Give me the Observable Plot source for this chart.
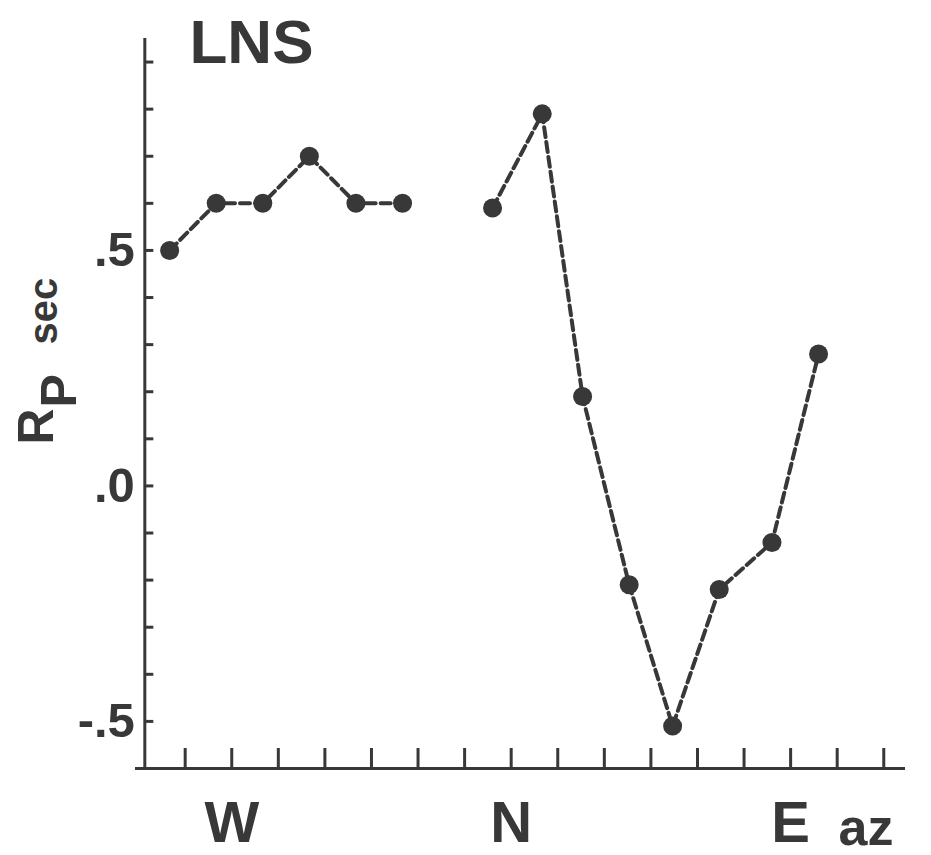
<!DOCTYPE html>
<html>
<head>
<meta charset="utf-8">
<script src="https://cdn.jsdelivr.net/npm/d3@7"></script>
<script src="https://cdn.jsdelivr.net/npm/@observablehq/plot@0.6"></script>
<style>
  html, body { margin: 0; padding: 0; background: #fff; }
  #chart { width: 931px; height: 855px; }
</style>
</head>
<body>
<div id="chart"></div>
<script>
// ---- data ----
const azimuth = [250, 265, 280, 295, 310, 325, 340, 354, 370, 383, 398, 412, 427, 444, 459];
const rpSec   = [0.50, 0.60, 0.60, 0.70, 0.60, 0.60, null, 0.59, 0.79, 0.19, -0.21, -0.51, -0.22, -0.12, 0.28];

const xTickValues = [255, 270, 285, 300, 315, 330, 345, 360, 375, 390, 405, 420, 435, 450, 465, 480];
const xLabelAz = [270, 360, 450];
const xLabelText = ["W", "N", "E"];

const yTickValues = [-0.5, -0.4, -0.3, -0.2, -0.1, 0, 0.1, 0.2, 0.3, 0.4, 0.5, 0.6, 0.7, 0.8, 0.9];
const yLabelValues = [0.5, 0, -0.5];
const yLabelText = [".5", ".0", "-.5"];

const titleText = "LNS";
const xAxisLabel = "az";

// ---- configuration ----
const xDomain = [239, 487];
const yDomain = [-0.6, 0.95];
const yAxisAz = 242;
const ink = "#383838";
const font = "'Liberation Sans', Arial, Helvetica, sans-serif";

const points = azimuth.map((az, i) => ({az, rp: rpSec[i]}));
const xLabels = xLabelAz.map((az, i) => ({az, text: xLabelText[i]}));
const yLabels = yLabelValues.map((v, i) => ({v, text: yLabelText[i]}));

const chart = Plot.plot({
  width: 931,
  height: 855,
  marginLeft: 135,
  marginRight: 26,
  marginTop: 38,
  marginBottom: 87,
  x: {domain: xDomain, axis: null},
  y: {domain: yDomain, axis: null},
  style: {background: "#fff", fontFamily: font, color: ink},
  marks: [
    // axes lines
    Plot.ruleY([yDomain[0]], {x1: xDomain[0], x2: xDomain[1], stroke: ink, strokeWidth: 3}),
    Plot.ruleX([yAxisAz], {y1: yDomain[0], y2: yDomain[1], stroke: ink, strokeWidth: 3}),
    // x ticks (pointing up)
    Plot.ruleX(xTickValues, {x: d => d, y1: yDomain[0], y2: yDomain[0], insetTop: -20, stroke: ink, strokeWidth: 3}),
    // y ticks (pointing right)
    Plot.ruleY(yTickValues, {y: d => d, x1: yAxisAz, x2: yAxisAz, insetRight: -9, stroke: ink, strokeWidth: 3}),
    // y tick labels
    Plot.text(yLabels, {x: yAxisAz, y: "v", text: "text", textAnchor: "end", dx: -10, fontSize: 49, fontWeight: "bold", fill: ink}),
    // x labels
    Plot.text(xLabels, {x: "az", y: yDomain[0], text: "text", lineAnchor: "bottom", dy: 73, fontSize: 58, fontWeight: "bold", fill: ink}),
    Plot.text([xAxisLabel], {frameAnchor: "bottom-right", text: d => d, lineAnchor: "bottom", dx: -12, dy: 76, fontSize: 52, fontWeight: "bold", fill: ink}),
    // title
    Plot.text([titleText], {frameAnchor: "top-left", text: d => d, textAnchor: "start", lineAnchor: "bottom", dx: 54, dy: 24, fontSize: 62, fontWeight: "bold", fill: ink}),
    // y axis label R_P sec (rotated)
    Plot.text(["R"], {frameAnchor: "top-left", text: d => d, rotate: -90, textAnchor: "start", lineAnchor: "bottom", dx: -83, dy: 406, fontSize: 50, fontWeight: "bold", fill: ink}),
    Plot.text(["P"], {frameAnchor: "top-left", text: d => d, rotate: -90, textAnchor: "start", lineAnchor: "bottom", dx: -60, dy: 369, fontSize: 50, fontWeight: "bold", fill: ink}),
    Plot.text(["sec"], {frameAnchor: "top-left", text: d => d, rotate: -90, textAnchor: "start", lineAnchor: "bottom", dx: -79, dy: 306, fontSize: 40, fontWeight: "bold", fill: ink}),
    // data
    Plot.line(points, {x: "az", y: "rp", stroke: ink, strokeWidth: 4, strokeDasharray: "10,5", curve: "linear"}),
    Plot.dot(points, {x: "az", y: "rp", r: 9.5, fill: ink, stroke: "none"})
  ]
});
document.getElementById("chart").appendChild(chart);
</script>
</body>
</html>
